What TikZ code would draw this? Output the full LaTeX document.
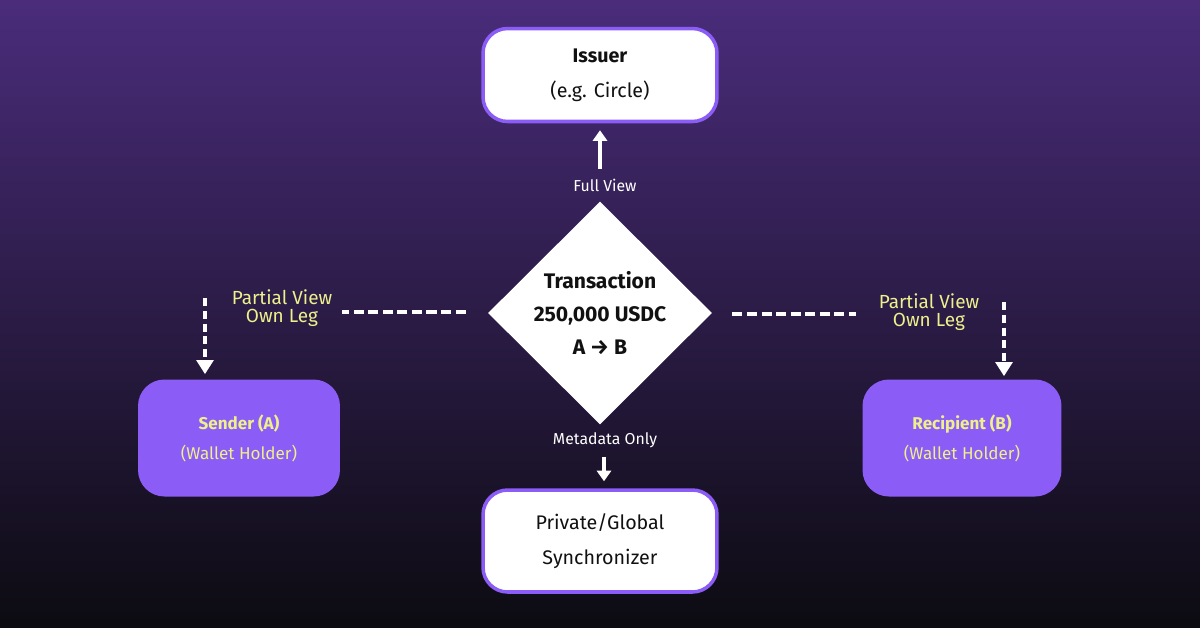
\documentclass[tikz,border=0pt]{standalone}
\usepackage{fontspec}
\setmainfont{Fira Sans}
\usetikzlibrary{arrows.meta,shapes.geometric,calc,positioning}

\definecolor{bgtop}{HTML}{4A2C7B}
\definecolor{bgmid}{HTML}{2B1C4C}
\definecolor{bgbot}{HTML}{0C0B11}
\definecolor{violet}{HTML}{8B5CF6}
\definecolor{lemon}{HTML}{EEF08C}
\definecolor{ink}{HTML}{111111}

\tikzset{
  whitebox/.style={draw=violet, line width=2pt, fill=white, rounded corners=14pt,
    minimum width=4.68cm, minimum height=1.86cm, align=center, text=ink,
    font=\fontsize{11.2}{20}\selectfont},
  partybox/.style={fill=violet, rounded corners=15pt, minimum width=4.04cm,
    minimum height=2.34cm, align=center, text=lemon,
    font=\fontsize{9.7}{17}\selectfont},
  smalltext/.style={text=white, font=\fontsize{9}{10}\selectfont, inner sep=1pt},
  viewtext/.style={text=lemon, align=center, font=\fontsize{10.8}{10.5}\selectfont, inner sep=1pt},
  viewarrow/.style={draw=white, line width=2.3pt, -{Triangle[width=8pt,length=6pt]}},
  dashline/.style={draw=white, line width=2.2pt, dash pattern=on 5.7pt off 2.6pt},
  dasharrow/.style={draw=white, line width=2.2pt, dash pattern=on 4.5pt off 2.8pt,
    -{Triangle[width=9.5pt,length=8pt]}}
}

\begin{document}
\begin{tikzpicture}[x=0.02cm, y=-0.02cm]

    % 背景渐变
    \useasboundingbox (0,0) rectangle (1200,627);
    \shade[top color=bgtop, middle color=bgmid, bottom color=bgbot] (0,0) rectangle (1200,627);

    % 1. 中心交易菱形
    \node[diamond, fill=white, inner sep=0pt, minimum width=4.48cm, minimum height=4.46cm,
      align=center, text=ink, font=\bfseries\fontsize{12}{18.8}\selectfont] (tx) at (600,313)
      {Transaction\\250,000 USDC\\A \textrightarrow{} B};

    % 2. 发行方与同步器
    \node[whitebox] (issuer) at (600,75) {\textbf{Issuer}\\(e.g. Circle)};
    \node[whitebox, minimum height=2.04cm] (sync) at (600,541) {Private/Global\\Synchronizer};

    % 3. 发送方与接收方
    \node[partybox] (sender) at (239,438) {\textbf{Sender (A)}\\(Wallet Holder)};
    \node[partybox, minimum width=3.98cm] (recip) at (962,438) {\textbf{Recipient (B)}\\(Wallet Holder)};

    % 4. 上下两条视图箭头
    \node[smalltext] (fullview) at (605,185) {Full View};
    \draw[viewarrow] ($(fullview.north -| issuer.south)+(0,-8)$) -- ($(issuer.south)+(0,7)$);

    \node[smalltext] (metaview) at (605,440) {Metadata Only};
    \draw[viewarrow] ($(metaview.south)+(-1,7)$) -- ($(sync.north)+(4,-7)$);

    % 5. 左右两侧的部分视图
    \draw[dashline] ($(tx.west)+(-22,-1)$) -- ++(-124,0);
    \draw[dashline] ($(tx.east)+(20,1)$) -- ++(124,0);

    \node[viewtext] (leftview) at (282,308) {Partial View\\Own Leg};
    \node[viewtext] (rightview) at (929,312) {Partial View\\Own Leg};

    \coordinate (lstart) at (205,298);
    \coordinate (rstart) at (1004,302);
    \draw[dasharrow] (lstart) -- ($(lstart |- sender.north)+(0,-5)$);
    \draw[dasharrow] (rstart) -- ($(rstart |- recip.north)+(0,-3)$);

\end{tikzpicture}
\end{document}
